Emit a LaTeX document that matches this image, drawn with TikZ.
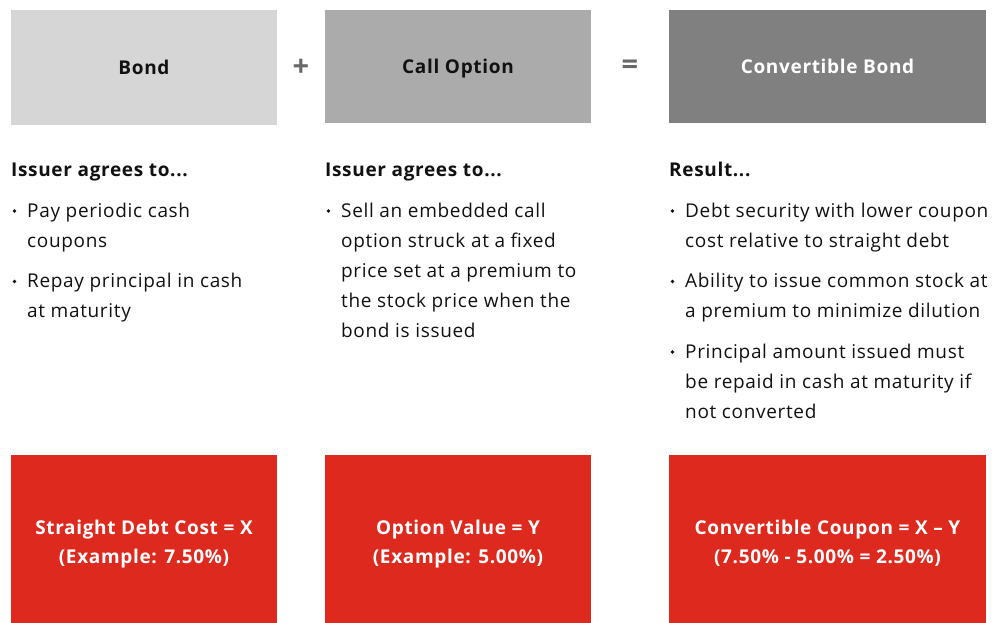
\documentclass[tikz,border=0pt]{standalone}
\usepackage{fontspec}
\setmainfont{Open Sans}[LetterSpace=3.5]
\definecolor{bondgray}{HTML}{D5D6D5}
\definecolor{callgray}{HTML}{AAABAA}
\definecolor{cbgray}{HTML}{7F807F}
\definecolor{opgray}{HTML}{686868}
\definecolor{costred}{HTML}{DE2A1E}
\definecolor{ink}{HTML}{111111}
\begin{document}
\begin{tikzpicture}[x=1pt,y=-1pt,
  boxlabel/.style={anchor=base,inner sep=0pt,font=\fontsize{19}{22}\selectfont\bfseries},
  header/.style={anchor=base west,inner sep=0pt,font=\fontsize{19}{22}\selectfont\bfseries,text=ink},
  itemtext/.style={anchor=base west,inner sep=0pt,align=left,
    font=\fontsize{19}{30}\selectfont,text=ink},
  dotmark/.style={circle,fill=ink,inner sep=0pt,minimum size=3.6pt},
  redlabel/.style={anchor=base,inner sep=0pt,align=center,text=white,
    font=\fontsize{19}{29}\selectfont\bfseries},
  opsign/.style={inner sep=0pt,text=opgray,font=\fontsize{29}{29}\selectfont\bfseries}]
\useasboundingbox (0,0) rectangle (1006,623);

% top row: components
\fill[bondgray] (11,10) rectangle (277,125);
\fill[callgray] (325,10) rectangle (591,123);
\fill[cbgray] (669,10) rectangle (986,123);
\node[boxlabel,text=ink] (bond) at (144,75) {Bond};
\node[boxlabel,text=ink] (call) at (458,74) {Call Option};
\node[boxlabel,text=white] (conv) at (827.5,74) {Convertible Bond};
\node[opsign] (plus) at (301,67.5) {+};
\node[opsign] (eq) at (630,67.5) {=};

% column headers
\node[header] (h1) at (11,176) {Issuer agrees to...};
\node[header] (h2) at (325,176) {Issuer agrees to...};
\node[header] (h3) at (669,176) {Result...};

% bond column (node anchors sit on the last line's baseline)
\node[dotmark] (d1a) at (14.5,211) {};
\node[itemtext] (t1a) at (27,247) {Pay periodic cash\\coupons};
\node[dotmark] (d1b) at (14.5,281.5) {};
\node[itemtext] (t1b) at (27,317.5) {Repay principal in cash\\at maturity};

% call option column
\node[dotmark] (d2a) at (328.5,211) {};
\node[itemtext] (t2a) at (341,337) {Sell an embedded call\\option struck at a fixed\\price set at a premium to\\the stock price when the\\bond is issued};

% convertible column
\node[dotmark] (d3a) at (672.5,211) {};
\node[itemtext] (t3a) at (685,247) {Debt security with lower coupon\\cost relative to straight debt};
\node[dotmark] (d3b) at (672.5,281.5) {};
\node[itemtext] (t3b) at (685,317.5) {Ability to issue common stock at\\a premium to minimize dilution};
\node[dotmark] (d3c) at (672.5,352) {};
\node[itemtext] (t3c) at (685,418) {Principal amount issued must\\be repaid in cash at maturity if\\not converted};

% bottom row: costs
\fill[costred] (11,455) rectangle (277,623);
\fill[costred] (325,455) rectangle (591,623);
\fill[costred] (669,455) rectangle (986,623);
\node[redlabel] (c1) at (144,563) {Straight Debt Cost = X\\(Example: 7.50\%)};
\node[redlabel] (c2) at (458,563) {Option Value = Y\\(Example: 5.00\%)};
\node[redlabel] (c3) at (827.5,563) {Convertible Coupon = X – Y\\(7.50\% - 5.00\% = 2.50\%)};
\end{tikzpicture}
\end{document}
